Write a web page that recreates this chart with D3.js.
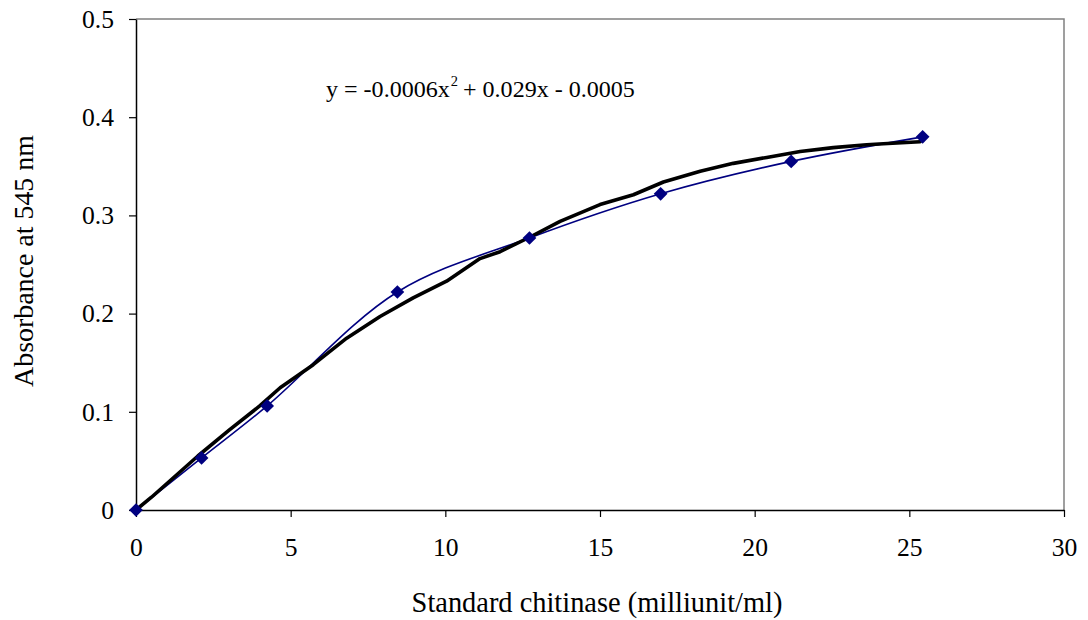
<!DOCTYPE html>
<html>
<head>
<meta charset="utf-8">
<script src="https://cdn.jsdelivr.net/npm/d3@7"></script>
<style>
  html, body { margin: 0; padding: 0; background: #fff; }
  svg { display: block; }
  text { font-family: "Liberation Serif", "Times New Roman", serif; fill: #000; }
</style>
</head>
<body>
<svg id="chart" width="1088" height="620"></svg>
<script>
// Measured standards (x: milliunit/ml, y: absorbance)
const stdX = [0, 2.12, 4.24, 8.45, 12.72, 16.96, 21.18, 25.43];
const stdY = [0, 0.053, 0.106, 0.222, 0.277, 0.322, 0.355, 0.380];

// Trendline as drawn
const trendX = [0, 0.5, 1.0, 2.0, 3.0, 4.0, 4.66, 5.73, 6.81, 7.89, 8.96, 10.04, 11.12, 11.77, 12.74, 13.71, 15.0, 16.08, 17.05, 18.24, 19.31, 20.39, 21.47, 22.54, 23.62, 24.16, 25.35];
const trendY = [0, 0.013, 0.027, 0.055, 0.081, 0.106, 0.1245, 0.148, 0.175, 0.197, 0.216, 0.233, 0.256, 0.263, 0.278, 0.294, 0.311, 0.321, 0.334, 0.345, 0.353, 0.359, 0.365, 0.369, 0.372, 0.373, 0.375];

const xTicks = [0, 5, 10, 15, 20, 25, 30];
const yTicks = [0, 0.1, 0.2, 0.3, 0.4, 0.5];
const yTickLabels = ["0", "0.1", "0.2", "0.3", "0.4", "0.5"];

const equationText = "y = -0.0006x";
const equationSup = "2";
const equationRest = "+ 0.029x - 0.0005";
const xTitle = "Standard chitinase (milliunit/ml)";
const yTitle = "Absorbance at 545 nm";

const svg = d3.select("#chart");
const L = 136, R = 1064, T = 19, B = 510;

const x = d3.scaleLinear().domain([0, 30]).range([L, R]);
const y = d3.scaleLinear().domain([0, 0.5]).range([B, T]);

function measure(str, size) {
  const t = svg.append("text").attr("font-size", size).text(str);
  const w = t.node().getComputedTextLength();
  t.remove();
  return w;
}
// font size that makes a string reach a target width
function fitSize(str, target, base) {
  return base * target / measure(str, base);
}
const tickSize = fitSize("0.5", 32, 20);
const xTitleSize = fitSize(xTitle, 371, 20);
const yTitleSize = fitSize(yTitle, 252, 20);

// top & right frame (grey)
svg.append("path")
  .attr("d", `M${L},${T}H${R}V${B}`)
  .attr("fill", "none").attr("stroke", "#808080").attr("stroke-width", 1.5);

// Axes
const xAxis = svg.append("g").attr("transform", `translate(0,${B})`)
  .call(d3.axisBottom(x).tickValues(xTicks).tickSize(7).tickSizeOuter(0).tickPadding(21).tickFormat(d3.format("d")));
const yAxis = svg.append("g").attr("transform", `translate(${L},0)`)
  .call(d3.axisLeft(y).tickValues(yTicks).tickSize(7).tickSizeOuter(0).tickPadding(15).tickFormat((d, i) => yTickLabels[i]));

[xAxis, yAxis].forEach(g => {
  g.attr("font-family", null);
  g.select(".domain").attr("stroke", "#000").attr("stroke-width", 1.5);
  g.selectAll(".tick line").attr("stroke", "#000").attr("stroke-width", 1.2);
  g.selectAll(".tick text").attr("font-size", tickSize).attr("fill", "#000");
});

// Smoothed data line
const pts = stdX.map((v, i) => [v, stdY[i]]);
svg.append("path")
  .datum(pts)
  .attr("fill", "none").attr("stroke", "#000080").attr("stroke-width", 1.6)
  .attr("d", d3.line().x(d => x(d[0])).y(d => y(d[1])).curve(d3.curveCatmullRom.alpha(0.5)));

// Trendline
const tpts = trendX.map((v, i) => [v, trendY[i]]);
svg.append("path")
  .datum(tpts)
  .attr("fill", "none").attr("stroke", "#000").attr("stroke-width", 3.6)
  .attr("stroke-linejoin", "round").attr("stroke-linecap", "round")
  .attr("d", d3.line().x(d => x(d[0])).y(d => y(d[1])));

// Diamond markers
const diamond = d3.symbol().type(d3.symbolDiamond2).size(120);
svg.append("g").selectAll("path").data(pts).join("path")
  .attr("transform", d => `translate(${x(d[0])},${y(d[1])})`)
  .attr("d", diamond)
  .attr("fill", "#000080");

// Equation: three pieces placed side by side, sized to the reference width
const supRatio = 0.6, gap = 2, eqTarget = 307, eqX = 326, eqY = 97;
const baseEq = 20;
const wTot = measure(equationText, baseEq) + measure(equationSup, baseEq * supRatio) + measure(equationRest, baseEq) + 2 * gap;
const eqSize = baseEq * (eqTarget - 2 * gap) / (wTot - 2 * gap);
const w1 = measure(equationText, eqSize);
const w2 = measure(equationSup, eqSize * supRatio);
svg.append("text").attr("x", eqX).attr("y", eqY).attr("font-size", eqSize).text(equationText);
svg.append("text").attr("x", eqX + w1 + 1).attr("y", eqY - eqSize * 0.45)
  .attr("font-size", eqSize * supRatio).text(equationSup);
svg.append("text").attr("x", eqX + w1 + w2 + gap + 4).attr("y", eqY).attr("font-size", eqSize).text(equationRest);

// Axis titles
svg.append("text").attr("x", 597).attr("y", 612)
  .attr("text-anchor", "middle").attr("font-size", xTitleSize).text(xTitle);
svg.append("text").attr("transform", `translate(33,261) rotate(-90)`)
  .attr("text-anchor", "middle").attr("font-size", yTitleSize).text(yTitle);
</script>
</body>
</html>
